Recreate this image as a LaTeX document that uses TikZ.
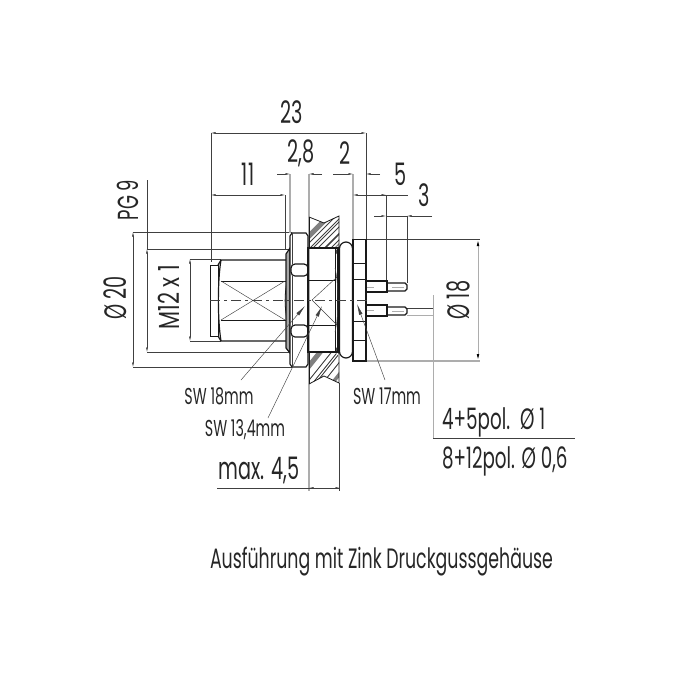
\documentclass[tikz,border=0pt]{standalone}
\usepackage{fontspec}
\setmainfont[FakeStretch=0.62]{Poppins}
\newfontfamily\widerfont[FakeStretch=0.72]{Poppins}
\usetikzlibrary{arrows.meta}
\tikzset{
  thinl/.style={draw=black!75,line width=.45pt},
  part/.style={draw=black!90,line width=.8pt},
  heavy/.style={draw=black!90,line width=1.2pt},
  ext/.style={draw=black!32,line width=1.3pt},
  dimline/.style={thinl,{Latex[length=4.5pt,width=2pt]}-{Latex[length=4.5pt,width=2pt]}},
  leader/.style={thinl,-{Latex[length=11pt,width=3.6pt]}},
  lbl/.style={font=\fontsize{31}{34}\selectfont,inner sep=0pt,text=black!85},
  lblrot/.style={lbl,rotate=90},
  small/.style={font=\fontsize{23}{26}\selectfont,inner sep=0pt,text=black!85},
  mid/.style={font=\fontsize{29.5}{32}\selectfont,inner sep=0pt,text=black!85,anchor=base west},
  hatchl/.style={draw=black!75,line width=.9pt},
  hatchd/.style={draw=black!50,line width=5pt},
}
\begin{document}
\begin{tikzpicture}[x=1pt,y=-1pt]
\useasboundingbox (0,0) rectangle (675,678);
% extension lines
\draw[thinl] (211,133) -- (211,262);
\draw[thinl] (366,133) -- (366,239);
\draw[thinl] (285,195) -- (285,250);
\draw[thinl] (386,195) -- (386,281);
\draw[thinl] (407,216) -- (407,283);
\draw[thinl] (133,232) -- (292,232);
\draw[thinl] (133,367) -- (292,367);
\draw[thinl] (147,249) -- (309,249);
\draw[thinl] (147,352) -- (309,352);
\draw[thinl] (190,259) -- (221,259);
\draw[thinl] (190,341) -- (221,341);
\draw[thinl] (366,239) -- (480,239);
\draw[thinl] (407,308) -- (433,308);
\draw[thinl] (339.5,383) -- (339.5,491);
\draw[ext] (290,174) -- (290,233);
\draw[ext] (309,174) -- (309,491);
\draw[ext] (353,174) -- (353,239);
\draw[ext] (366,361) -- (480,361);
\draw[ext,line width=1pt] (433,295) -- (433,438);
\draw[ext,line width=1pt] (407,315) -- (433,315);
% dimensions
\draw[dimline] (211,133) -- (366,133);
\draw[dimline] (211,195) -- (285,195);
\draw[thinl,-{Latex[length=4.5pt,width=2pt]}] (277,174) -- (290,174);
\draw[thinl,-{Latex[length=4.5pt,width=2pt]}] (322,174) -- (309,174);
\draw[thinl,-{Latex[length=4.5pt,width=2pt]}] (333,174) -- (353,174);
\draw[thinl,-{Latex[length=4.5pt,width=2pt]}] (380,174) -- (366,174);
\draw[thinl,{Latex[length=4.5pt,width=2pt]}-] (353,195) -- (408,195);
\draw[thinl,{Latex[length=4.5pt,width=2pt]}-] (386,195) -- (375,195);
\draw[thinl,-{Latex[length=4.5pt,width=2pt]}] (374,216) -- (386,216);
\draw[thinl,-{Latex[length=4.5pt,width=2pt]}] (432,216) -- (407,216);
\draw[thinl] (386,216) -- (407,216);
\draw[dimline] (133,232) -- (133,367);
\draw[thinl] (147,180) -- (147,249);
\draw[dimline] (147,249) -- (147,352);
\draw[dimline] (190,259) -- (190,341);
\draw[draw=black!32,line width=1pt,{Latex[length=7pt,width=2.6pt,black]}-{Latex[length=7pt,width=2.6pt,black]}] (478,239) -- (478,361);
\draw[thinl] (217,488) -- (340,488);
\draw[dimline] (309,488) -- (340,488);
\draw[thinl] (433,438) -- (575,438);
% wall
\begin{scope}
  \clip (309,217) -- (324,223) -- (339,216) -- (339,245) -- (335,248) -- (309,248) -- cycle;
  \draw[hatchd] (300,245) -- (330,215);
  \draw[hatchl] (301,251) -- (341,211);
  \draw[hatchl] (305,253) -- (345,213);
  \draw[hatchl] (308,253) -- (348,213);
  \draw[hatchl] (313,253) -- (353,213);
  \draw[hatchl,line width=1.6pt] (320,253) -- (345,228);
  \draw[hatchl] (326,253) -- (351,228);
  \draw[hatchd,line width=2.5pt] (331,253) -- (345,239);
\end{scope}
\begin{scope}
  \clip (309,352) -- (335,352) -- (339,356) -- (339,383) -- (324,376) -- (309,384) -- cycle;
  \draw[hatchd] (305,371) -- (325,346);
  \draw[hatchl] (306,384) -- (334,349);
  \draw[hatchl] (312,384) -- (340,349);
  \draw[hatchl] (315,384) -- (343,349);
  \draw[hatchl] (322,384) -- (350,349);
  \draw[hatchd,line width=3.5pt] (330,386) -- (342,371);
\end{scope}
\draw[part] (309,217) -- (324,223) -- (339,216) -- (339,248);
\draw[part] (309,384) -- (324,376) -- (339,383) -- (339,352);
\draw[part] (309,217) -- (309,248) (309,352) -- (309,384);
\fill[black!70] (339,246) -- (335,252) -- (339,256) -- cycle;
\fill[black!70] (339,354) -- (335,350) -- (339,344) -- cycle;
% front sleeve
\draw[part] (210,265) rectangle (218,336);
\draw[heavy] (218,265) -- (221,260) -- (286,260) (218,336) -- (221,341) -- (286,341);
\draw[heavy] (221,260) .. controls (217.5,280) and (217.5,320) .. (221,341);
\draw[part] (221,281) -- (287,281) (221,320) -- (287,320);
\draw[thinl] (221,281) -- (285,320) (221,320) -- (285,281);
\draw[part] (287,281) .. controls (284.5,295) and (284.5,306) .. (287,320);
% thin flange
\draw[heavy,fill=black!35] (286,254) -- (290,248) -- (290,353) -- (286,348) -- cycle;
% nut
\draw[heavy,fill=white] (292,233) -- (306,233) -- (308,236) -- (308,364) -- (306,367) -- (292,367) -- (290,364) -- (290,236) -- cycle;
\draw[heavy,rounded corners=4pt] (291,264) rectangle (308,276);
\draw[heavy,rounded corners=4pt] (291,325) rectangle (308,337);
\draw[thinl] (292,233) -- (292,264) (292,276) -- (292,325) (292,337) -- (292,367);
% rear body
\draw[heavy] (308,248) rectangle (338,352);
\draw[part] (335,248) -- (335,352);
\draw[part] (308,280) -- (336,280) (308,325) -- (336,325);
\draw[thinl] (312,300) -- (337,277) (312,300) -- (337,325);
\draw[thinl] (335,268) .. controls (339,285) and (339,315) .. (335,332);
% o-ring
\draw[heavy,rounded corners=6.5pt] (339.5,242) rectangle (352.5,358);
% hex nut
\draw[heavy] (353,239.5) rectangle (366,361);
\draw[part] (353,263) -- (366,263) (353,279) -- (366,279) (353,321) -- (366,321) (353,340) -- (366,340);
% pins
\draw[heavy] (366,281) -- (387,281) -- (387,292) -- (366,292);
\draw[heavy] (387,283) -- (405,283) -- (407,285) -- (407,289) -- (405,291) -- (387,291);
\draw[heavy] (366,305) -- (387,305) -- (387,316) -- (366,316);
\draw[heavy] (387,307) -- (405,307) -- (407,309) -- (407,313) -- (405,315) -- (387,315);
\draw[ext,line width=.8pt] (367,287) -- (374,287) (392,287) -- (404,287) (367,310) -- (374,310) (392,311) -- (404,311);
% centre line
\draw[thinl,dash pattern=on 10pt off 4pt on 3pt off 4pt] (210,300) -- (368,300);
% labels
\node[lbl] (n23) at (292,112) {23};
\node[lbl] (n11) at (248,174) {11};
\node[lbl] (n28) at (301,153) {2,8};
\node[lbl] (n2) at (345,153) {2};
\node[lbl] (n5) at (401,174) {5};
\node[lbl] (n3) at (424,195) {3};
\node[lblrot,font=\fontsize{29}{32}\selectfont] (npg) at (128,200) {PG 9};
\node[lblrot] (nd20) at (115,298) {Ø 20};
\node[lblrot,font=\widerfont\fontsize{29}{32}\selectfont] (nm12) at (169,297) {M12 x 1};
\node[lblrot] (nd18) at (458,300) {Ø 18};
\node[small] (sw18) at (219,396) {SW 18mm};
\node[small] (sw13) at (245,430) {SW 13,4mm};
\node[small] (sw17) at (387,396) {SW 17mm};
\node[lbl] (max) at (259,470) {max. 4,5};
\node[mid] (p1) at (442,429) {4+5pol.\hspace{10pt}Ø 1};
\node[mid] (p2) at (442,468) {8+12pol. Ø 0,6};
\node[lbl,font=\fontsize{28}{30}\selectfont] (foot) at (381.5,562) {Ausführung mit Zink Druckgussgehäuse};
% leaders
\coordinate (l18) at (241,380); \coordinate (t18) at (305,306);
\coordinate (l13) at (268,418); \coordinate (t13) at (322,306);
\coordinate (l17) at (385,380); \coordinate (t17) at (357,304);
\draw[leader] (l18) -- (t18);
\draw[leader] (l13) -- (t13);
\draw[leader] (l17) -- (t17);
\end{tikzpicture}
\end{document}
